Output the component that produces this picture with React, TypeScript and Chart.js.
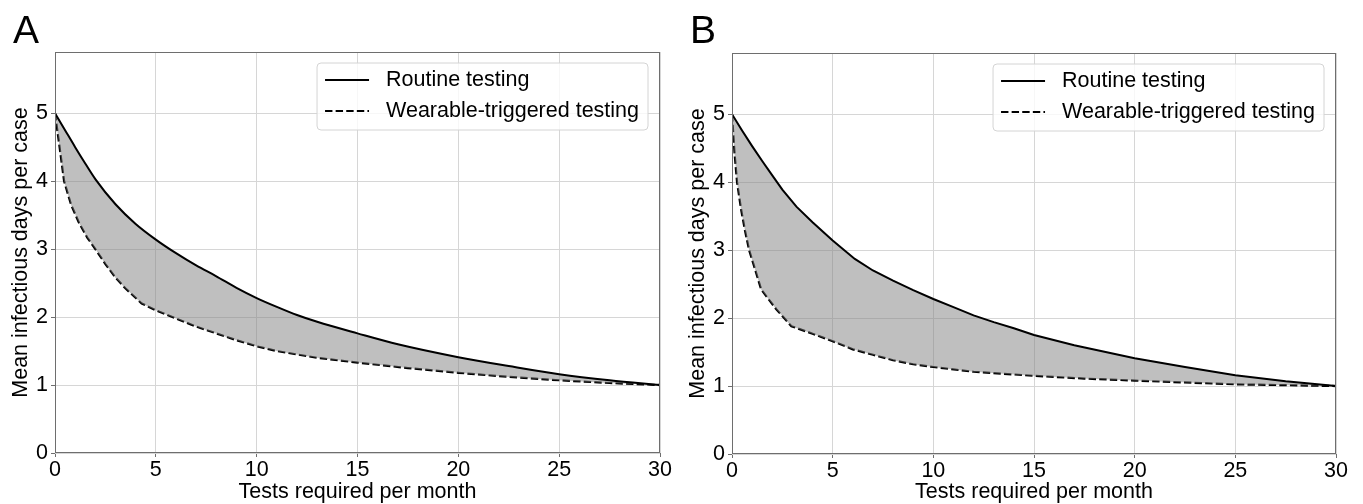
import React, { useEffect, useRef } from "react";
import { Chart, registerables } from "chart.js";

Chart.register(...registerables);

const FONT = '"Liberation Sans", Arial, Helvetica, sans-serif';
const FONT_SIZE = 21.5;

// ---- Panel A data ----
const routineAX = [0, 0.5, 1, 1.5, 2, 3, 4, 5, 6, 7, 8, 9, 10, 11, 12, 13, 15, 17, 20, 22.5, 25, 27.5, 30];
const routineAY = [5, 4.75, 4.5, 4.26, 4.03, 3.66, 3.37, 3.14, 2.94, 2.76, 2.6, 2.43, 2.28, 2.15, 2.03, 1.93, 1.76, 1.6, 1.41, 1.28, 1.16, 1.07, 1];
const wearableAX = [0, 0.25, 0.45, 0.8, 1.2, 1.6, 2, 2.5, 3, 3.5, 4.3, 5, 6, 7, 8, 9, 10, 11, 12, 13, 15, 17.5, 20, 22.5, 25, 27.5, 30];
const wearableAY = [5, 4.45, 4.0, 3.65, 3.38, 3.17, 3.0, 2.78, 2.58, 2.42, 2.2, 2.1, 1.98, 1.86, 1.76, 1.66, 1.57, 1.5, 1.45, 1.4, 1.33, 1.25, 1.18, 1.12, 1.07, 1.03, 1.0];

// ---- Panel B data ----
const routineBX = [0, 0.5, 1, 1.5, 2, 2.5, 3.2, 4, 5, 6.1, 7, 8, 9, 10, 11, 12, 13, 14, 15, 17, 20, 22.5, 25, 27.5, 30];
const routineBY = [5, 4.76, 4.53, 4.31, 4.1, 3.89, 3.64, 3.41, 3.14, 2.87, 2.7, 2.55, 2.41, 2.28, 2.16, 2.04, 1.94, 1.85, 1.75, 1.6, 1.41, 1.28, 1.16, 1.07, 1];
const wearableBX = [0, 0.12, 0.25, 0.45, 0.65, 0.85, 1.1, 1.45, 2.2, 2.95, 4, 5, 6, 7, 8, 9, 10, 12, 15, 17.5, 20, 25, 30];
const wearableBY = [5, 4.45, 4.0, 3.6, 3.28, 3.0, 2.76, 2.42, 2.13, 1.88, 1.77, 1.66, 1.54, 1.46, 1.38, 1.32, 1.28, 1.21, 1.15, 1.11, 1.08, 1.025, 1.0];

// ---- labels / ticks ----
const seriesLabels = ["Routine testing", "Wearable-triggered testing"];
const xTitle = "Tests required per month";
const yTitle = "Mean infectious days per case";
const xMin = 0, xMax = 30, xStep = 5;
const yMin = 0, yMax = 5.9, yStep = 1;

const pts = (xs: number[], ys: number[]) => xs.map((x, i) => ({ x, y: ys[i] }));

const framePlugin = {
  id: "frameAndLegend",
  afterDraw(chart: any) {
    const { ctx, chartArea } = chart;
    const { left, top, right, bottom } = chartArea;
    ctx.save();
    // frame
    ctx.strokeStyle = "#6e6e6e";
    ctx.lineWidth = 1;
    ctx.strokeRect(Math.round(left) + 0.5, Math.round(top) + 0.5, Math.round(right - left) - 1, Math.round(bottom - top) - 1);

    // legend
    ctx.font = `${FONT_SIZE}px ${FONT}`;
    const labels = chart.data.datasets.map((d: any) => d.label as string);
    const tw = Math.max(...labels.map((l: string) => ctx.measureText(l).width));
    const padL = 8, lineLen = 44, gap = 17, padR = 9;
    const w = padL + lineLen + gap + tw + padR;
    const h = 67;
    const bx = right - 12 - w;
    const by = top + 11;
    const r = 4;
    ctx.beginPath();
    ctx.moveTo(bx + r, by);
    ctx.lineTo(bx + w - r, by);
    ctx.arcTo(bx + w, by, bx + w, by + r, r);
    ctx.lineTo(bx + w, by + h - r);
    ctx.arcTo(bx + w, by + h, bx + w - r, by + h, r);
    ctx.lineTo(bx + r, by + h);
    ctx.arcTo(bx, by + h, bx, by + h - r, r);
    ctx.lineTo(bx, by + r);
    ctx.arcTo(bx, by, bx + r, by, r);
    ctx.closePath();
    ctx.fillStyle = "rgba(255,255,255,0.8)";
    ctx.fill();
    ctx.strokeStyle = "#d4d4d4";
    ctx.lineWidth = 1;
    ctx.stroke();

    chart.data.datasets.forEach((d: any, i: number) => {
      const ry = by + 17 + i * 31;
      ctx.beginPath();
      ctx.setLineDash(d.borderDash || []);
      ctx.strokeStyle = d.borderColor;
      ctx.lineWidth = d.borderWidth;
      ctx.moveTo(bx + padL, ry);
      ctx.lineTo(bx + padL + lineLen, ry);
      ctx.stroke();
      ctx.setLineDash([]);
      ctx.fillStyle = "#000";
      ctx.textBaseline = "middle";
      ctx.textAlign = "left";
      ctx.fillText(d.label, bx + padL + lineLen + gap, ry);
    });
    ctx.restore();
  },
};

type PanelProps = {
  letter: string;
  left: number;
  width: number;
  letterLeft: number;
  yAxisW: number;
  rightPad: number;
  topPad: number;
  xAxisH: number;
  yTitlePad: number;
  routine: { x: number; y: number }[];
  wearable: { x: number; y: number }[];
  smoothRoutine: boolean;
};

function Panel(p: PanelProps) {
  const ref = useRef<HTMLCanvasElement>(null);
  useEffect(() => {
    const font = { family: FONT, size: FONT_SIZE, lineHeight: 1.2 };
    const titleFont = { family: FONT, size: FONT_SIZE, lineHeight: 1 };
    const chart = new Chart(ref.current as HTMLCanvasElement, {
      type: "line",
      data: {
        datasets: [
          {
            label: seriesLabels[0],
            data: p.routine,
            borderColor: "#000",
            borderWidth: 2,
            pointRadius: 0,
            tension: 0,
            cubicInterpolationMode: p.smoothRoutine ? "monotone" : "default",
            fill: "+1",
            backgroundColor: "rgba(128,128,128,0.5)",
          } as any,
          {
            label: seriesLabels[1],
            data: p.wearable,
            borderColor: "#000",
            borderWidth: 2.2,
            borderDash: [7.4, 3.2],
            pointRadius: 0,
            tension: 0,
            fill: false,
          } as any,
        ],
      },
      options: {
        responsive: false,
        animation: false,
        events: [],
        layout: { padding: { left: 0, right: p.rightPad, top: p.topPad, bottom: 0 } },
        plugins: { legend: { display: false }, tooltip: { enabled: false } },
        scales: {
          x: {
            type: "linear",
            min: xMin,
            max: xMax,
            ticks: { stepSize: xStep, includeBounds: false, font, color: "#000", padding: 0, maxRotation: 0 },
            grid: { color: "#d6d6d6", tickColor: "#6e6e6e", tickLength: 4, lineWidth: 1 },
            border: { display: false },
            title: { display: true, text: xTitle, font: titleFont, color: "#000", padding: { top: 0, bottom: 1 } },
            afterFit: (s: any) => {
              s.height = p.xAxisH;
            },
          },
          y: {
            type: "linear",
            min: yMin,
            max: yMax,
            ticks: { stepSize: yStep, includeBounds: false, font, color: "#000", padding: 3 },
            grid: { color: "#d6d6d6", tickColor: "#6e6e6e", tickLength: 4, lineWidth: 1 },
            border: { display: false },
            title: { display: true, text: yTitle, font, color: "#000", padding: { top: p.yTitlePad, bottom: 0 } },
            afterFit: (s: any) => {
              s.width = p.yAxisW;
            },
          },
        },
      } as any,
      plugins: [framePlugin],
    });
    return () => chart.destroy();
  }, []);

  return (
    <>
      <canvas
        ref={ref}
        width={p.width}
        height={504}
        style={{ position: "absolute", left: p.left, top: 0, width: p.width, height: 504 }}
      />
      <div
        style={{
          position: "absolute",
          left: p.letterLeft,
          top: 10,
          fontFamily: FONT,
          fontSize: 39,
          lineHeight: "39px",
          color: "#000",
        }}
      >
        {p.letter}
      </div>
    </>
  );
}

export default function App() {
  return (
    <div style={{ position: "absolute", left: 0, top: 0, width: 1363, height: 504, background: "#fff", overflow: "hidden" }}>
      <Panel
        letter="A"
        left={0}
        width={680}
        letterLeft={13}
        yAxisW={55}
        rightPad={20}
        topPad={52}
        xAxisH={51}
        yTitlePad={8}
        routine={pts(routineAX, routineAY)}
        wearable={pts(wearableAX, wearableAY)}
        smoothRoutine={true}
      />
      <Panel
        letter="B"
        left={680}
        width={683}
        letterLeft={690}
        yAxisW={52}
        rightPad={27}
        topPad={53}
        xAxisH={50}
        yTitlePad={5}
        routine={pts(routineBX, routineBY)}
        wearable={pts(wearableBX, wearableBY)}
        smoothRoutine={false}
      />
    </div>
  );
}
